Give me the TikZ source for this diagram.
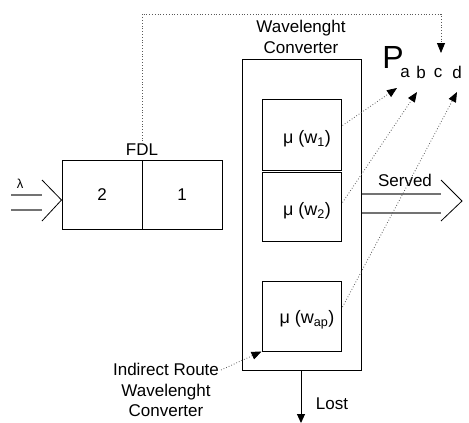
\documentclass[tikz,border=0pt]{standalone}
\usepackage{fontspec}
\setmainfont{Liberation Sans}
\usetikzlibrary{arrows.meta,calc}
\begin{document}
\begin{tikzpicture}[x=1pt,y=-1pt,
  box/.style={draw, line width=1pt, inner sep=0pt},
  lbl/.style={inner sep=0pt, font=\fontsize{17}{20.5}\selectfont},
  mu/.style={font=\fontsize{18}{20}\selectfont},
  dotarrow/.style={dotted, line width=0.8pt, draw=black!65, -{Triangle[length=10pt,width=8pt,color=black,fill=black]}},
  dbl/.style={draw=black!55, line width=1.2pt},
  chev/.style={draw=black, line width=0.8pt}]
\useasboundingbox (0,0) rectangle (469,423);
% FDL
\node[box, minimum width=80pt, minimum height=69pt, font=\fontsize{17}{20}\selectfont] (fdl2) at (102,194.5) {2};
\node[box, minimum width=80pt, minimum height=69pt, font=\fontsize{17}{20}\selectfont] (fdl1) at (182,194.5) {1};
\node[lbl] (fdllbl) at (142,150) {FDL};
% input
\coordinate (inA1) at (11,195); \coordinate (inB1) at (42,195);
\coordinate (inA2) at (11,210); \coordinate (inB2) at (42,210);
\coordinate (inT) at (42,180); \coordinate (inBt) at (42,221);
\draw[dbl] (inA1) -- (inB1); \draw[dbl] (inA2) -- (inB2);
\draw[chev] (inT) -- (fdl2.west |- 0,200) -- (inBt);
\node[inner sep=0pt, font=\fontsize{13}{13}\selectfont] (lam) at (20,184) {λ};
% wavelength converter
\node[box, minimum width=119pt, minimum height=311pt] (wc) at (301.5,214.5) {};
\node[lbl, align=center] (wctitle) at (301,37) {Wavelenght\\Converter};
\node[box, minimum width=79pt, minimum height=71pt] (b1) at (301.5,134.5) {};
\node[box, minimum width=79pt, minimum height=69pt] (b2) at (301.5,206.5) {};
\node[box, minimum width=79pt, minimum height=70pt] (b3) at (301.5,316) {};
\node[mu, inner sep=0pt] (t1) at (307,139) {μ (w\textsubscript{1})};
\node[mu, inner sep=0pt] (t2) at (307,211) {μ (w\textsubscript{2})};
\node[mu, inner sep=0pt] (t3) at (307,320) {μ (w\textsubscript{ap})};
% served
\coordinate (sA1) at (441,194); \coordinate (sA2) at (441,213);
\coordinate (sT) at (441,180); \coordinate (sTip) at (462,201); \coordinate (sB) at (441,221);
\draw[dbl] (wc.east |- sA1) -- (sA1); \draw[dbl] (wc.east |- sA2) -- (sA2);
\draw[chev] (sT) -- (sTip) -- (sB);
\node[lbl] (served) at (405,180) {Served};
% P
\node[inner sep=0pt, font=\fontsize{32}{32}\selectfont] (P) at (393,57) {P};
\node[lbl] (pa) at (405,73) {a};
\node[lbl] (pb) at (421,72) {b};
\node[lbl] (pc) at (438,73) {c};
\node[lbl] (pd) at (457,72) {d};
\coordinate (ta) at (397,88); \coordinate (tb) at (417,92);
\coordinate (tc) at (441,53); \coordinate (td) at (457,92);
\draw[dotarrow] (fdllbl.north) -- (142,14) -| (tc);
\draw[dotarrow] (b1.east) ++(1,-9) -- (ta);
\draw[dotarrow] (b2.east) ++(1,-4) -- (tb);
\draw[dotarrow] (b3.east) ++(1,-9) -- (td);
% indirect route
\node[lbl, align=center] (ind) at (166,390) {Indirect Route\\Wavelenght\\Converter};
\draw[dotarrow] (221,370) -- (b3.south west);
% lost
\draw[line width=1pt, -{Triangle[length=9pt,width=8pt]}] (wc.south) ++(-0.5,0) -- (301,423);
\node[lbl] (lost) at (332,404) {Lost};
\end{tikzpicture}
\end{document}
